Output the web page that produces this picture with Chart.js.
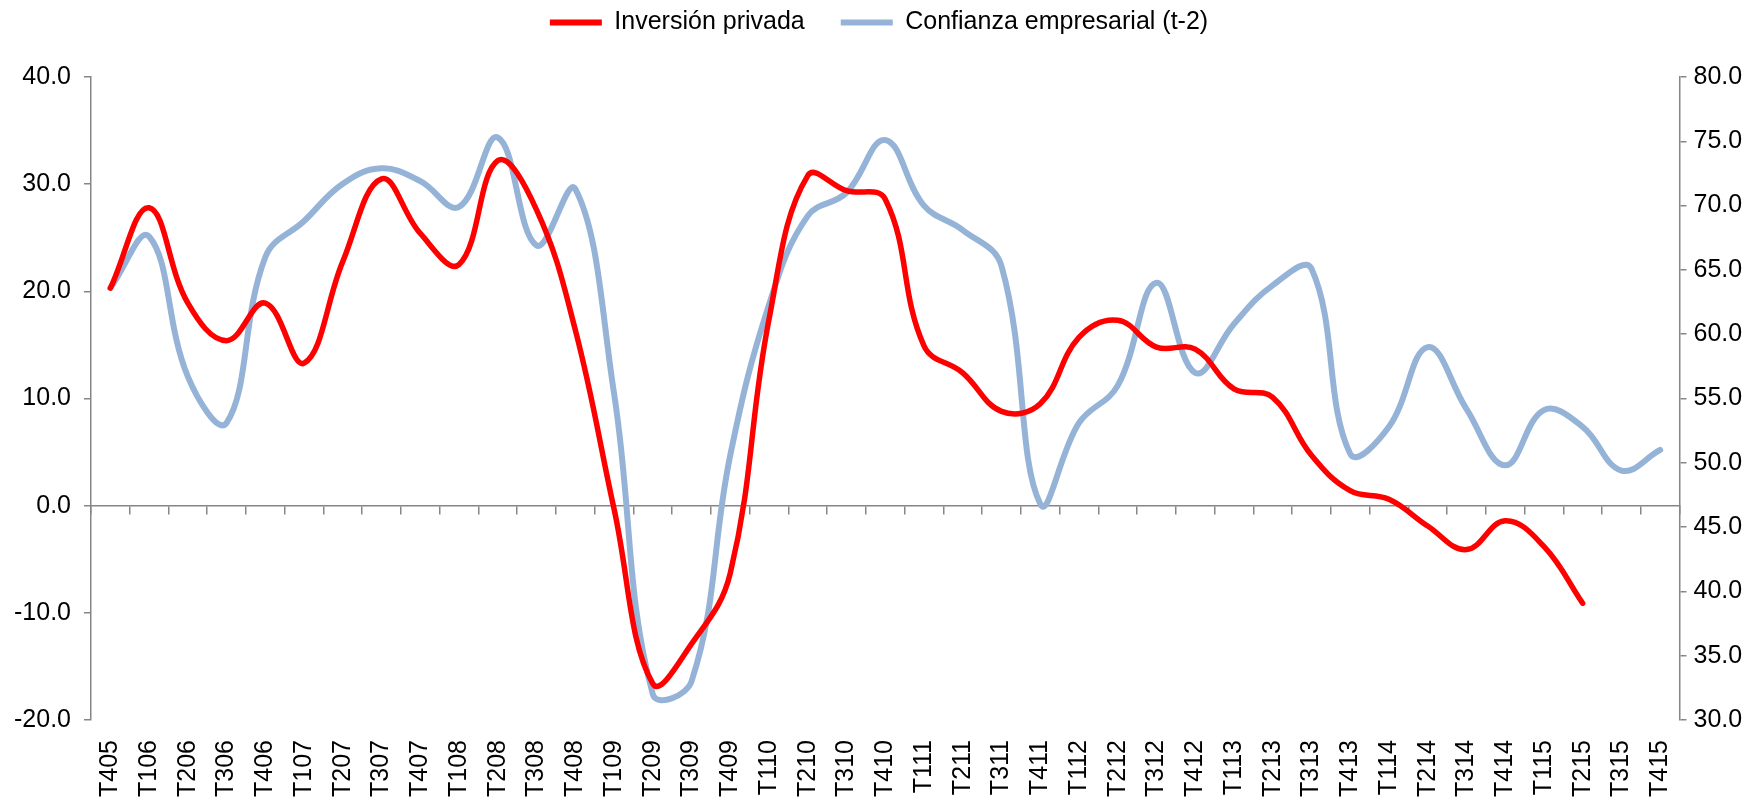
<!DOCTYPE html>
<html>
<head>
<meta charset="utf-8">
<script src="https://cdn.jsdelivr.net/npm/chart.js@4"></script>
<style>
  body { margin: 0; background: #fff; }
</style>
</head>
<body>
<canvas id="myChart" width="1758" height="802"></canvas>
<script>
const quarters = [
  "T405", "T106", "T206", "T306", "T406", "T107", "T207", "T307", "T407", "T108",
  "T208", "T308", "T408", "T109", "T209", "T309", "T409", "T110", "T210", "T310",
  "T410", "T111", "T211", "T311", "T411", "T112", "T212", "T312", "T412", "T113",
  "T213", "T313", "T413", "T114", "T214", "T314", "T414", "T115", "T215", "T315",
  "T415",
];

// left axis
const inversionPrivada = [
  20.3, 27.8, 18.9, 15.4, 18.9, 13.3, 22.8, 30.5, 25.4, 22.5,
  32.2, 27.6, 16.4, -0.3, -16.6, -12.9, -6.3, 17.4, 30.8, 29.4,
  28.6, 14.9, 12.4, 8.8, 9.5, 15.7, 17.3, 14.8, 14.6, 10.9,
  10.1, 4.7, 1.4, 0.6, -1.9, -4.1, -1.4, -3.8, -9.1, null,
  null,
];

// right axis
const confianzaEmpresarial = [
  63.6, 67.6, 56.7, 53.1, 66.0, 68.8, 71.7, 72.9, 71.9, 69.9,
  75.3, 66.9, 71.3, 55.4, 32.0, 33.0, 50.6, 62.3, 69.2, 71.0,
  75.1, 70.0, 68.1, 65.3, 46.8, 53.1, 56.0, 64.0, 57.0, 60.8,
  63.8, 65.1, 50.7, 52.8, 59.0, 54.2, 49.8, 54.1, 52.8, 49.4,
  51.0,
];

const axisGray = "#868686";

Chart.defaults.font.family = '"Liberation Sans", Arial, sans-serif';
Chart.defaults.font.size = 25;
Chart.defaults.color = "#000";

// fixed legend height so the plot starts where it should
const legendHeight = {
  id: "legendHeight",
  beforeInit(chart) {
    const fit = chart.legend.fit;
    chart.legend.fit = function () {
      fit.bind(chart.legend)();
      this.height = 103;
    };
  },
};

const data = {
  labels: quarters,
  datasets: [
    {
      label: "Inversión privada",
      data: inversionPrivada,
      borderColor: "#ff0000",
      backgroundColor: "#ff0000",
      borderWidth: 5.5,
      tension: 0.4,
      pointRadius: 0,
      borderCapStyle: "round",
      borderJoinStyle: "round",
      yAxisID: "y",
    },
    {
      label: "Confianza empresarial (t-2)",
      data: confianzaEmpresarial,
      borderColor: "#95b3d7",
      backgroundColor: "#95b3d7",
      borderWidth: 6,
      tension: 0.4,
      pointRadius: 0,
      borderCapStyle: "round",
      borderJoinStyle: "round",
      yAxisID: "y1",
    },
  ],
};

const config = {
  type: "line",
  data,
  plugins: [legendHeight],
  options: {
    responsive: false,
    animation: false,
    layout: {
      padding: { top: -26, left: 0, right: 0, bottom: 0 },
    },
    scales: {
      x: {
        offset: true,
        grid: { display: false, drawTicks: false },
        border: { display: false },
        ticks: {
          autoSkip: false,
          minRotation: 90,
          maxRotation: 90,
          padding: 20,
        },
        afterFit: (scale) => {
          scale.height = 82;
        },
      },
      // zero line with the category tick marks
      x2: {
        type: "category",
        position: { y: 0 },
        offset: true,
        grid: {
          offset: true,
          drawOnChartArea: false,
          tickLength: 8,
          color: axisGray,
          lineWidth: 1.5,
        },
        border: { display: true, color: axisGray, width: 1.5 },
        ticks: { display: false },
      },
      y: {
        position: "left",
        min: -20,
        max: 40,
        ticks: {
          stepSize: 10,
          padding: 13,
          callback: (v) => v.toFixed(1),
        },
        grid: {
          drawOnChartArea: false,
          tickLength: 7,
          color: axisGray,
          lineWidth: 1.5,
        },
        border: { color: axisGray, width: 1.5 },
        afterFit: (scale) => {
          scale.width = 91;
        },
      },
      y1: {
        position: "right",
        min: 30,
        max: 80,
        ticks: {
          stepSize: 5,
          padding: 7,
          callback: (v) => v.toFixed(1),
        },
        grid: {
          drawOnChartArea: false,
          tickLength: 7,
          color: axisGray,
          lineWidth: 1.5,
        },
        border: { color: axisGray, width: 1.5 },
        afterFit: (scale) => {
          scale.width = 78.5;
        },
      },
    },
    plugins: {
      legend: {
        position: "top",
        labels: {
          boxWidth: 52,
          boxHeight: 6,
          padding: 36,
          generateLabels: (chart) =>
            Chart.defaults.plugins.legend.labels
              .generateLabels(chart)
              .map((item) => ({ ...item, lineWidth: 0 })),
        },
      },
      tooltip: { enabled: false },
    },
  },
};

const myChart = new Chart(document.getElementById("myChart"), config);
</script>
</body>
</html>
